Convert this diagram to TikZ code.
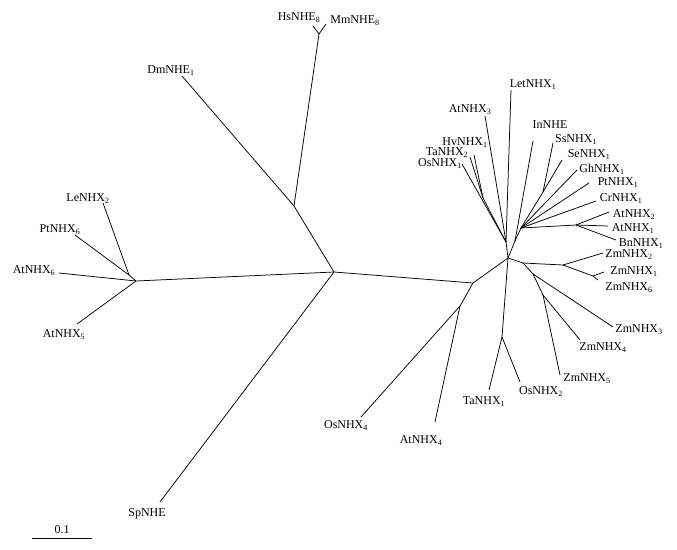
\documentclass[tikz,border=0pt]{standalone}
\usepackage{fontspec}
\setmainfont{Liberation Serif}
\newcommand{\sbs}[1]{\textsubscript{#1}}
\begin{document}
\begin{tikzpicture}[x=1pt,y=-1pt,
  br/.style={line width=0.75pt,black},
  lab/.style={inner sep=0pt,text height=8.5pt,text depth=0pt,font=\fontsize{12}{12}\selectfont}]
\useasboundingbox (0,0) rectangle (677,549);
% internal nodes
\coordinate (L) at (136,281);
\coordinate (L2) at (129,275);
\coordinate (C1) at (334,272);
\coordinate (D) at (294,206);
\coordinate (H) at (319,34);
\coordinate (C2) at (473,283);
\coordinate (A4) at (460,306);
\coordinate (C3) at (508,258);
\coordinate (N1) at (506,242);
\coordinate (V) at (483,198);
\coordinate (R0) at (515,241);
\coordinate (R1) at (521,228);
\coordinate (Q) at (543,192);
\coordinate (A12) at (576,225);
\coordinate (Z0) at (523,263);
\coordinate (Zm) at (563,265);
\coordinate (Z16) at (593,276);
\coordinate (Z3) at (533,274);
\coordinate (Z45) at (543,295);
\coordinate (T) at (502,337);
% leaf ends
\coordinate (eAtNHXvi) at (59,273);
\coordinate (ePtNHXvi) at (75,235);
\coordinate (eLeNHXii) at (103,203);
\coordinate (eAtNHXv) at (77,324);
\coordinate (eSpNHE) at (160,502);
\coordinate (eDmNHEi) at (182,76);
\coordinate (eHsNHE) at (313,26);
\coordinate (eMmNHE) at (326,24);
\coordinate (eOsNHXiv) at (361,417);
\coordinate (eAtNHXiv) at (435,422);
\coordinate (eLetNHXi) at (511,90);
\coordinate (eAtNHXiii) at (485,116);
\coordinate (eOsNHXi) at (462,164);
\coordinate (eHvNHXi) at (474,155);
\coordinate (eTaNHXii) at (470,157);
\coordinate (eInNHE) at (533,141);
\coordinate (eSsNHXi) at (553,143);
\coordinate (eSeNHXi) at (562,160);
\coordinate (eGhNHXi) at (577,170);
\coordinate (ePtNHXi) at (589,183);
\coordinate (eCrNHXi) at (596,201);
\coordinate (eAtNHXii) at (609,212);
\coordinate (eAtNHXi) at (608,226);
\coordinate (eBnNHXi) at (616,240);
\coordinate (eZmNHXii) at (603,253);
\coordinate (eZmNHXi) at (604,272);
\coordinate (eZmNHXvi) at (598,280);
\coordinate (eZmNHXiii) at (613,327);
\coordinate (eZmNHXiv) at (580,340);
\coordinate (eZmNHXv) at (560,375);
\coordinate (eTaNHXi) at (489,390);
\coordinate (eOsNHXii) at (520,382);
% branches
\draw[br] (L) -- (eAtNHXvi);
\draw[br] (L) -- (eAtNHXv);
\draw[br] (L) -- (L2);
\draw[br] (L2) -- (ePtNHXvi);
\draw[br] (L2) -- (eLeNHXii);
\draw[br] (L) -- (C1);
\draw[br] (C1) -- (eSpNHE);
\draw[br] (C1) -- (D);
\draw[br] (D) -- (eDmNHEi);
\draw[br] (D) -- (H);
\draw[br] (H) -- (eHsNHE);
\draw[br] (H) -- (eMmNHE);
\draw[br] (C1) -- (C2);
\draw[br] (C2) -- (A4);
\draw[br] (A4) -- (eOsNHXiv);
\draw[br] (A4) -- (eAtNHXiv);
\draw[br] (C2) -- (C3);
\draw[br] (C3) -- (N1);
\draw[br] (N1) -- (eLetNHXi);
\draw[br] (N1) -- (eAtNHXiii);
\draw[br] (N1) -- (eOsNHXi);
\draw[br] (N1) -- (V);
\draw[br] (V) -- (eHvNHXi);
\draw[br] (V) -- (eTaNHXii);
\draw[br] (C3) -- (R0);
\draw[br] (R0) -- (R1);
\draw[br] (R0) -- (eInNHE);
\draw[br] (R1) -- (Q);
\draw[br] (Q) -- (eSsNHXi);
\draw[br] (Q) -- (eSeNHXi);
\draw[br] (R1) -- (eGhNHXi);
\draw[br] (R1) -- (ePtNHXi);
\draw[br] (R1) -- (eCrNHXi);
\draw[br] (R1) -- (A12);
\draw[br] (A12) -- (eAtNHXii);
\draw[br] (A12) -- (eAtNHXi);
\draw[br] (A12) -- (eBnNHXi);
\draw[br] (C3) -- (Z0);
\draw[br] (Z0) -- (Zm);
\draw[br] (Zm) -- (eZmNHXii);
\draw[br] (Zm) -- (Z16);
\draw[br] (Z16) -- (eZmNHXi);
\draw[br] (Z16) -- (eZmNHXvi);
\draw[br] (Z0) -- (Z3);
\draw[br] (Z3) -- (eZmNHXiii);
\draw[br] (Z3) -- (Z45);
\draw[br] (Z45) -- (eZmNHXiv);
\draw[br] (Z45) -- (eZmNHXv);
\draw[br] (C3) -- (T);
\draw[br] (T) -- (eTaNHXi);
\draw[br] (T) -- (eOsNHXii);
% labels
\node[lab] (tAtNHXvi) at (34,269) {AtNHX\sbs{6}};
\node[lab] (tPtNHXvi) at (60,228) {PtNHX\sbs{6}};
\node[lab] (tLeNHXii) at (88,197) {LeNHX\sbs{2}};
\node[lab] (tAtNHXv) at (64,333) {AtNHX\sbs{5}};
\node[lab] (tSpNHE) at (147,512) {SpNHE};
\node[lab] (tDmNHEi) at (171,69) {DmNHE\sbs{1}};
\node[lab] (tHsNHE) at (299,16) {HsNHE\sbs{8}};
\node[lab] (tMmNHE) at (355,19) {MmNHE\sbs{8}};
\node[lab] (tOsNHXiv) at (346,424) {OsNHX\sbs{4}};
\node[lab] (tAtNHXiv) at (421,439) {AtNHX\sbs{4}};
\node[lab] (tLetNHXi) at (533,83) {LetNHX\sbs{1}};
\node[lab] (tAtNHXiii) at (470,108) {AtNHX\sbs{3}};
\node[lab] (tHvNHXi) at (465,141) {HvNHX\sbs{1}};
\node[lab] (tTaNHXii) at (447,151) {TaNHX\sbs{2}};
\node[lab] (tOsNHXi) at (440,162) {OsNHX\sbs{1}};
\node[lab] (tInNHE) at (550,124) {InNHE};
\node[lab] (tSsNHXi) at (576,138) {SsNHX\sbs{1}};
\node[lab] (tSeNHXi) at (589,153) {SeNHX\sbs{1}};
\node[lab] (tGhNHXi) at (602,168) {GhNHX\sbs{1}};
\node[lab] (tPtNHXi) at (618,181) {PtNHX\sbs{1}};
\node[lab] (tCrNHXi) at (621,197) {CrNHX\sbs{1}};
\node[lab] (tAtNHXii) at (634,213) {AtNHX\sbs{2}};
\node[lab] (tAtNHXi) at (633,227) {AtNHX\sbs{1}};
\node[lab] (tBnNHXi) at (641,242) {BnNHX\sbs{1}};
\node[lab] (tZmNHXii) at (629,253) {ZmNHX\sbs{2}};
\node[lab] (tZmNHXi) at (634,270) {ZmNHX\sbs{1}};
\node[lab] (tZmNHXvi) at (629,286) {ZmNHX\sbs{6}};
\node[lab] (tZmNHXiii) at (639,328) {ZmNHX\sbs{3}};
\node[lab] (tZmNHXiv) at (603,346) {ZmNHX\sbs{4}};
\node[lab] (tZmNHXv) at (587,377) {ZmNHX\sbs{5}};
\node[lab] (tOsNHXii) at (541,390) {OsNHX\sbs{2}};
\node[lab] (tTaNHXi) at (484,400) {TaNHX\sbs{1}};
% scale bar
\coordinate (sbA) at (32,538);
\coordinate (sbB) at (92,538);
\draw[br] (sbA) -- (sbB);
\node[lab] (tScale) at (62,529) {0.1};
\end{tikzpicture}
\end{document}
